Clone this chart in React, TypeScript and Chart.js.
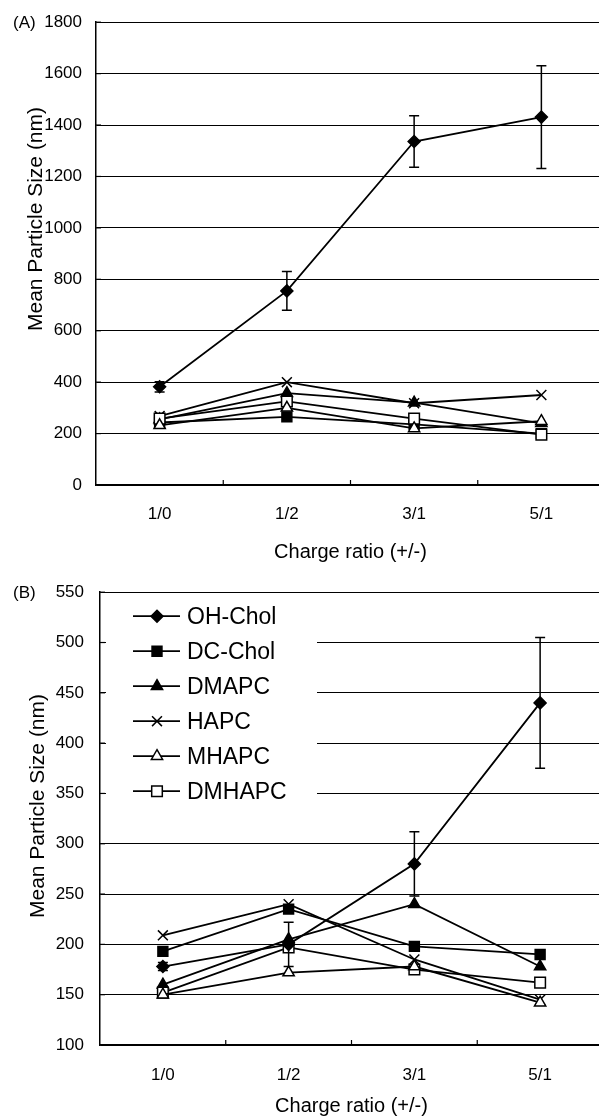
import React, { useEffect, useRef } from 'react';
import { Chart, registerables } from 'chart.js';
import { drawPoint } from 'chart.js/helpers';

Chart.register(...registerables);

const FONT = "Arial, 'Liberation Sans', Helvetica, sans-serif";

const categories = ['1/0', '1/2', '3/1', '5/1'];
const seriesNames = ['OH-Chol', 'DC-Chol', 'DMAPC', 'HAPC', 'MHAPC', 'DMHAPC'];
const yTitle = 'Mean Particle Size (nm)';
const xTitle = 'Charge ratio (+/-)';

// Panel (A)
const ohCholA = [382, 755, 1336, 1431];
const ohCholErrA = [20, 75, 100, 200];
const dcCholA = [243, 265, 236, 200];
const dmapcA = [255, 357, 320, 240];
const hapcA = [268, 400, 318, 350];
const mhapcA = [232, 300, 220, 248];
const dmhapcA = [258, 325, 258, 196];
const yRangeA = [0, 1800];
const yStepA = 200;

// Panel (B)
const ohCholB = [178, 200, 280, 440];
const ohCholErrB = [4, 22, 32, 65];
const dcCholB = [193, 235, 198, 190];
const dmapcB = [160, 205, 240, 178];
const hapcB = [209, 240, 185, 145];
const mhapcB = [150, 172, 178, 142];
const dmhapcB = [152, 197, 175, 162];
const yRangeB = [100, 550];
const yStepB = 50;

const markers = [
  { pointStyle: 'rectRot', radius: 6, fill: '#000', order: 0 },
  { pointStyle: 'rect', radius: 7, fill: '#000', order: 3 },
  { pointStyle: 'triangle', radius: 6.5, fill: '#000', order: 3 },
  { pointStyle: 'crossRot', radius: 7, fill: '#000', order: 3 },
  { pointStyle: 'triangle', radius: 6.5, fill: '#fff', order: 1 },
  { pointStyle: 'rect', radius: 7.5, fill: '#fff', order: 2 },
];

function makeDatasets(series: number[][]) {
  return series.map((data, i) => ({
    label: seriesNames[i],
    data,
    borderColor: '#000',
    borderWidth: 1.8,
    pointStyle: markers[i].pointStyle,
    pointRadius: markers[i].radius,
    pointHoverRadius: markers[i].radius,
    pointBackgroundColor: markers[i].fill,
    pointBorderColor: '#000',
    pointBorderWidth: 1.5,
    tension: 0,
    fill: false,
    order: markers[i].order,
  }));
}

const decor = {
  id: 'decor',
  beforeDatasetsDraw(chart: any, _a: any, o: any) {
    if (!o.legend) return;
    const { ctx, chartArea } = chart;
    ctx.save();
    ctx.fillStyle = '#fff';
    ctx.fillRect(chartArea.left + 6, chartArea.top + 1.5, o.legendBoxWidth, o.legendBoxHeight);
    ctx.restore();
  },
  afterDatasetsDraw(chart: any, _a: any, o: any) {
    const { ctx } = chart;
    const xs = chart.scales.x;
    const ys = chart.scales.y;
    const data = chart.data.datasets[0].data as number[];
    ctx.save();
    ctx.strokeStyle = '#000';
    ctx.lineWidth = 1.5;
    (o.err as number[]).forEach((e, i) => {
      const x = xs.getPixelForValue(i);
      const t = ys.getPixelForValue(data[i] + e);
      const b = ys.getPixelForValue(data[i] - e);
      ctx.beginPath();
      ctx.moveTo(x, t);
      ctx.lineTo(x, b);
      ctx.moveTo(x - 5, t);
      ctx.lineTo(x + 5, t);
      ctx.moveTo(x - 5, b);
      ctx.lineTo(x + 5, b);
      ctx.stroke();
    });
    ctx.restore();
  },
  afterDraw(chart: any, _a: any, o: any) {
    const { ctx, chartArea } = chart;
    const xs = chart.scales.x;
    const ys = chart.scales.y;
    ctx.save();
    ctx.strokeStyle = '#000';
    ctx.lineWidth = 1.2;
    for (let i = 1; i < categories.length; i++) {
      const x = (xs.getPixelForValue(i - 1) + xs.getPixelForValue(i)) / 2;
      ctx.beginPath();
      ctx.moveTo(x, chartArea.bottom);
      ctx.lineTo(x, chartArea.bottom - 5);
      ctx.stroke();
    }
    ys.ticks.forEach((t: any) => {
      const y = ys.getPixelForValue(t.value);
      ctx.beginPath();
      ctx.moveTo(chartArea.left, y);
      ctx.lineTo(chartArea.left + 5, y);
      ctx.stroke();
    });
    ctx.fillStyle = '#000';
    ctx.font = `17px ${FONT}`;
    ctx.textAlign = 'left';
    ctx.textBaseline = 'middle';
    ctx.fillText(o.panel, 5, chartArea.top + 1);
    ctx.save();
    ctx.translate(o.titleX, o.titleY);
    ctx.rotate(-Math.PI / 2);
    ctx.textAlign = 'center';
    ctx.textBaseline = 'middle';
    ctx.font = `21px ${FONT}`;
    ctx.fillText(yTitle, 0, 0);
    ctx.restore();
    if (o.legend) {
      const ds = chart.data.datasets;
      ds.forEach((d: any, i: number) => {
        const y = chartArea.top + o.legendTop + i * o.legendGap;
        const l = chartArea.left;
        ctx.strokeStyle = '#000';
        ctx.lineWidth = 1.8;
        ctx.beginPath();
        ctx.moveTo(l + 33, y);
        ctx.lineTo(l + 80, y);
        ctx.stroke();
        ctx.fillStyle = markers[i].fill;
        ctx.strokeStyle = '#000';
        ctx.lineWidth = 1.5;
        drawPoint(ctx, { pointStyle: markers[i].pointStyle, radius: markers[i].radius, rotation: 0, borderWidth: 1.5 } as any, l + 57, y);
        ctx.fillStyle = '#000';
        ctx.font = `23px ${FONT}`;
        ctx.textAlign = 'left';
        ctx.textBaseline = 'middle';
        ctx.fillText(d.label, l + 87, y + 1);
      });
    }
    ctx.restore();
  },
};

function buildConfig(p: any): any {
  return {
    type: 'line',
    data: { labels: categories, datasets: makeDatasets(p.series) },
    options: {
      animation: false,
      responsive: false,
      events: [],
      layout: { padding: { top: 0, bottom: p.padBottom, left: 0, right: 0 } },
      plugins: {
        legend: { display: false },
        tooltip: { enabled: false },
        decor: p.decor,
      },
      scales: {
        x: {
          type: 'category',
          offset: true,
          grid: { display: false, drawTicks: false },
          border: { display: true, color: '#000', width: 1.5 },
          ticks: { color: '#000', font: { family: FONT, size: 17 }, padding: p.xTickPad, maxRotation: 0, autoSkip: false },
          title: {
            display: true,
            text: xTitle,
            color: '#000',
            font: { family: FONT, size: 20 },
            padding: { top: p.xTitlePad, bottom: 0 },
          },
        },
        y: {
          min: p.yRange[0],
          max: p.yRange[1],
          ticks: {
            stepSize: p.yStep,
            color: '#000',
            font: { family: FONT, size: 17 },
            padding: p.yTickPad,
            callback: (v: any) => String(v),
          },
          grid: { color: '#000', lineWidth: 1, drawTicks: false },
          border: { color: '#000', width: 1.5 },
          afterFit: (s: any) => {
            s.width = p.yWidth;
          },
        },
      },
    },
    plugins: [decor],
  };
}

function Panel({ config, w, h, wrapH, offset }: { config: () => any; w: number; h: number; wrapH: number; offset: number }) {
  const ref = useRef<HTMLCanvasElement>(null);
  useEffect(() => {
    const c = new Chart(ref.current as HTMLCanvasElement, config());
    return () => c.destroy();
  }, []);
  return (
    <div style={{ width: 599, height: wrapH, overflow: 'hidden', position: 'relative' }}>
      <canvas
        ref={ref}
        width={w}
        height={h}
        style={{ display: 'block', width: w, height: h, position: 'absolute', left: 0, top: offset }}
      />
    </div>
  );
}

const configA = () =>
  buildConfig({
    series: [ohCholA, dcCholA, dmapcA, hapcA, mhapcA, dmhapcA],
    yRange: yRangeA,
    yStep: yStepA,
    yWidth: 88,
    yTickPad: 14,
    padBottom: 1,
    xTickPad: 19,
    xTitlePad: -3.4,
    decor: { err: ohCholErrA, panel: '(A)', titleX: 28, titleY: 221, legend: false },
  });

const configB = () =>
  buildConfig({
    series: [ohCholB, dcCholB, dmapcB, hapcB, mhapcB, dmhapcB],
    yRange: yRangeB,
    yStep: yStepB,
    yWidth: 92,
    yTickPad: 16,
    padBottom: 0,
    xTickPad: 20,
    xTitlePad: -11.4,
    decor: {
      err: ohCholErrB,
      panel: '(B)',
      titleX: 30,
      titleY: 240,
      legend: true,
      legendTop: 24,
      legendGap: 35,
      legendBoxWidth: 211,
      legendBoxHeight: 218,
    },
  });

export default function App() {
  useEffect(() => {
    document.documentElement.style.overflow = 'hidden';
  }, []);
  return (
    <div>
      <Panel config={configA} w={606} h={567} wrapH={557} offset={-10} />
      <Panel config={configB} w={604} h={552} wrapH={553} offset={1} />
    </div>
  );
}
